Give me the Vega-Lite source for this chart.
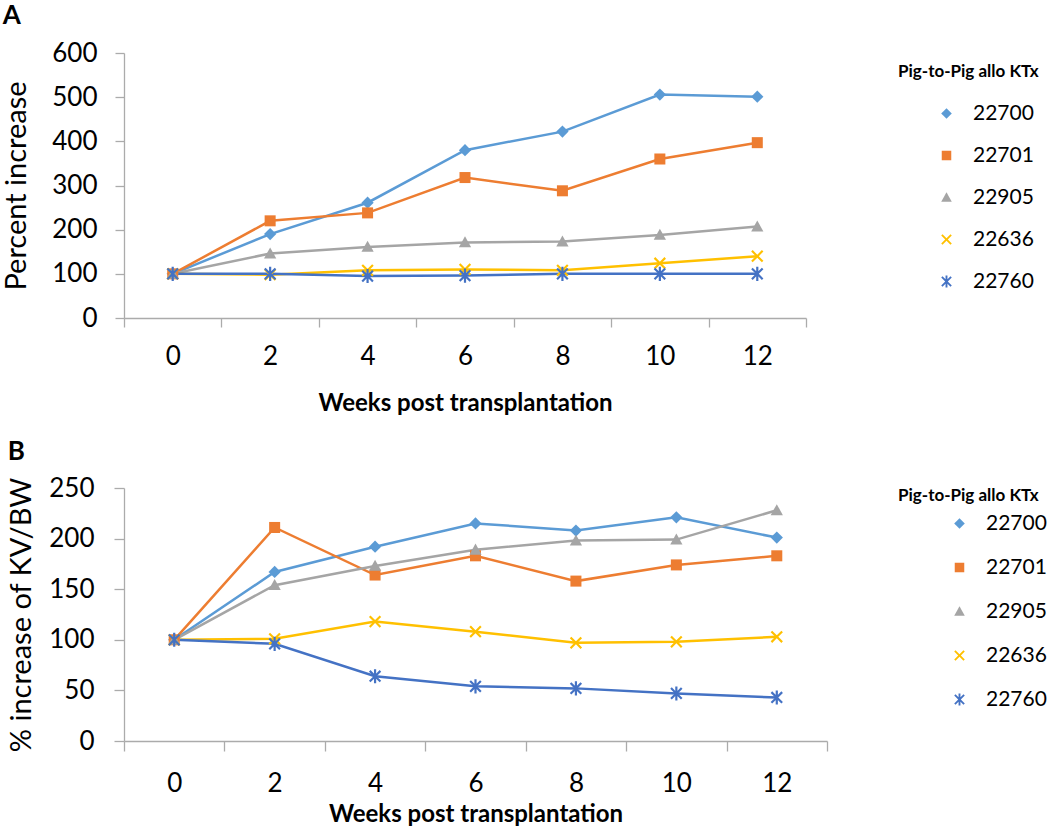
{
  "$schema": "https://vega.github.io/schema/vega-lite/v6.json",
  "padding": {"left": 2, "top": 3, "right": 0, "bottom": 0},
  "background": "white",
  "config": {
    "font": "Lato",
    "view": {"stroke": null},
    "axis": {"domainColor": "#ABABAB", "tickColor": "#ABABAB", "domainWidth": 1.3, "tickWidth": 1.3, "grid": false, "labelColor": "#000000", "titleColor": "#000000"},
    "legend": {"labelColor": "#000000", "titleColor": "#000000"},
    "title": {"color": "#000000"}
  },
  "datasets": {
    "a": [
      {"week": 0, "id": "22700", "value": 100}, {"week": 2, "id": "22700", "value": 190}, {"week": 4, "id": "22700", "value": 261}, {"week": 6, "id": "22700", "value": 380}, {"week": 8, "id": "22700", "value": 422}, {"week": 10, "id": "22700", "value": 506}, {"week": 12, "id": "22700", "value": 501},
      {"week": 0, "id": "22701", "value": 100}, {"week": 2, "id": "22701", "value": 220}, {"week": 4, "id": "22701", "value": 238}, {"week": 6, "id": "22701", "value": 318}, {"week": 8, "id": "22701", "value": 288}, {"week": 10, "id": "22701", "value": 360}, {"week": 12, "id": "22701", "value": 397},
      {"week": 0, "id": "22905", "value": 100}, {"week": 2, "id": "22905", "value": 146}, {"week": 4, "id": "22905", "value": 161}, {"week": 6, "id": "22905", "value": 171}, {"week": 8, "id": "22905", "value": 173}, {"week": 10, "id": "22905", "value": 188}, {"week": 12, "id": "22905", "value": 207},
      {"week": 0, "id": "22636", "value": 100}, {"week": 2, "id": "22636", "value": 98}, {"week": 4, "id": "22636", "value": 108}, {"week": 6, "id": "22636", "value": 110}, {"week": 8, "id": "22636", "value": 108}, {"week": 10, "id": "22636", "value": 124}, {"week": 12, "id": "22636", "value": 140},
      {"week": 0, "id": "22760", "value": 100}, {"week": 2, "id": "22760", "value": 100}, {"week": 4, "id": "22760", "value": 95}, {"week": 6, "id": "22760", "value": 96}, {"week": 8, "id": "22760", "value": 100}, {"week": 10, "id": "22760", "value": 100}, {"week": 12, "id": "22760", "value": 100}
    ],
    "b": [
      {"week": 0, "id": "22700", "value": 100}, {"week": 2, "id": "22700", "value": 167}, {"week": 4, "id": "22700", "value": 192}, {"week": 6, "id": "22700", "value": 215}, {"week": 8, "id": "22700", "value": 208}, {"week": 10, "id": "22700", "value": 221}, {"week": 12, "id": "22700", "value": 201},
      {"week": 0, "id": "22701", "value": 100}, {"week": 2, "id": "22701", "value": 211}, {"week": 4, "id": "22701", "value": 164}, {"week": 6, "id": "22701", "value": 183}, {"week": 8, "id": "22701", "value": 158}, {"week": 10, "id": "22701", "value": 174}, {"week": 12, "id": "22701", "value": 183},
      {"week": 0, "id": "22905", "value": 100}, {"week": 2, "id": "22905", "value": 154}, {"week": 4, "id": "22905", "value": 173}, {"week": 6, "id": "22905", "value": 189}, {"week": 8, "id": "22905", "value": 198}, {"week": 10, "id": "22905", "value": 199}, {"week": 12, "id": "22905", "value": 228},
      {"week": 0, "id": "22636", "value": 100}, {"week": 2, "id": "22636", "value": 101}, {"week": 4, "id": "22636", "value": 118}, {"week": 6, "id": "22636", "value": 108}, {"week": 8, "id": "22636", "value": 97}, {"week": 10, "id": "22636", "value": 98}, {"week": 12, "id": "22636", "value": 103},
      {"week": 0, "id": "22760", "value": 100}, {"week": 2, "id": "22760", "value": 96}, {"week": 4, "id": "22760", "value": 64}, {"week": 6, "id": "22760", "value": 54}, {"week": 8, "id": "22760", "value": 52}, {"week": 10, "id": "22760", "value": 47}, {"week": 12, "id": "22760", "value": 43}
    ]
  },
  "spacing": 24,
  "vconcat": [
    {
      "width": 682,
      "height": 265,
      "title": {"text": "A", "anchor": "start", "frame": "bounds", "fontSize": 26, "fontWeight": "bold", "offset": 11},
      "data": {"name": "a"},
      "encoding": {
        "x": {"field": "week", "type": "ordinal", "scale": {"type": "band", "paddingInner": 0, "paddingOuter": 0},
          "axis": {"title": "Weeks post transplantation", "titleFontSize": 24, "titleFontWeight": "bold", "labelFontSize": 26, "labelAngle": 0, "labelPadding": 16, "tickSize": 9, "tickBand": "extent", "titlePadding": 22}},
        "y": {"field": "value", "type": "quantitative", "scale": {"domain": [0, 600]},
          "axis": {"title": "Percent increase", "titleFontSize": 29, "titleFontWeight": "normal", "labelFontSize": 26, "labelPadding": 18, "tickSize": 9, "values": [0, 100, 200, 300, 400, 500, 600], "titlePadding": 20}}
      },
      "layer": [
        {"mark": {"type": "line", "strokeWidth": 2.5},
         "encoding": {"stroke": {"field": "id", "type": "nominal", "scale": {"domain": ["22760", "22636", "22905", "22701", "22700"], "range": ["#4472C4", "#FFC000", "#A5A5A5", "#ED7D31", "#5B9BD5"]}, "legend": null}}},
        {
          "mark": {"type": "point", "filled": true, "opacity": 1, "size": 150},
          "encoding": {
            "color": {"field": "id", "type": "nominal", "scale": {"domain": ["22700", "22701", "22905", "22636", "22760"], "range": ["#5B9BD5", "#ED7D31", "#A5A5A5", "#FFC000", "#4472C4"]},
              "legend": {"title": "Pig-to-Pig allo KTx", "orient": "right", "offset": 81, "padding": 11, "titleFontSize": 17, "titleFontWeight": "bold", "titlePadding": 22, "labelFontSize": 21, "rowPadding": 20, "symbolOffset": 38, "labelOffset": 16, "symbolSize": 112}},
            "shape": {"field": "id", "type": "nominal", "scale": {"domain": ["22700", "22701", "22905", "22636", "22760"], "range": ["M-1,0L0,-1L1,0L0,1Z", "M-0.9,-0.9L0.9,-0.9L0.9,0.9L-0.9,0.9Z", "M-1,0.8L0,-1L1,0.8Z", "M0,-0.25L0.75,-1L1,-0.75L0.25,0L1,0.75L0.75,1L0,0.25L-0.75,1L-1,0.75L-0.25,0L-1,-0.75L-0.75,-1Z", "M0,-0.25L0.75,-1L1,-0.75L0.25,0L1,0.75L0.75,1L0,0.25L-0.75,1L-1,0.75L-0.25,0L-1,-0.75L-0.75,-1ZM-0.18,-1.15L0.18,-1.15L0.18,1.15L-0.18,1.15Z"]}}
          }
        }
      ]
    },
    {
      "width": 703,
      "height": 253,
      "title": {"text": "B", "anchor": "start", "frame": "bounds", "fontSize": 26, "fontWeight": "bold", "offset": 10},
      "data": {"name": "b"},
      "encoding": {
        "x": {"field": "week", "type": "ordinal", "scale": {"type": "band", "paddingInner": 0, "paddingOuter": 0},
          "axis": {"title": "Weeks post transplantation", "titleFontSize": 24, "titleFontWeight": "bold", "labelFontSize": 26, "labelAngle": 0, "labelPadding": 19, "tickSize": 10, "tickBand": "extent", "titlePadding": 6}},
        "y": {"field": "value", "type": "quantitative", "scale": {"domain": [0, 250]},
          "axis": {"title": "% increase of KV/BW", "titleFontSize": 29, "titleFontWeight": "normal", "labelFontSize": 26, "labelPadding": 20, "tickSize": 10, "values": [0, 50, 100, 150, 200, 250], "titlePadding": 12}}
      },
      "layer": [
        {"mark": {"type": "line", "strokeWidth": 2.5},
         "encoding": {"stroke": {"field": "id", "type": "nominal", "scale": {"domain": ["22760", "22636", "22905", "22701", "22700"], "range": ["#4472C4", "#FFC000", "#A5A5A5", "#ED7D31", "#5B9BD5"]}, "legend": null}}},
        {
          "mark": {"type": "point", "filled": true, "opacity": 1, "size": 150},
          "encoding": {
            "color": {"field": "id", "type": "nominal", "scale": {"domain": ["22700", "22701", "22905", "22636", "22760"], "range": ["#5B9BD5", "#ED7D31", "#A5A5A5", "#FFC000", "#4472C4"]},
              "legend": {"title": "Pig-to-Pig allo KTx", "orient": "right", "offset": 71, "padding": 0, "titleFontSize": 17, "titleFontWeight": "bold", "titlePadding": 8, "labelFontSize": 21, "rowPadding": 22, "symbolOffset": 51, "labelOffset": 16, "symbolSize": 112}},
            "shape": {"field": "id", "type": "nominal", "scale": {"domain": ["22700", "22701", "22905", "22636", "22760"], "range": ["M-1,0L0,-1L1,0L0,1Z", "M-0.9,-0.9L0.9,-0.9L0.9,0.9L-0.9,0.9Z", "M-1,0.8L0,-1L1,0.8Z", "M0,-0.25L0.75,-1L1,-0.75L0.25,0L1,0.75L0.75,1L0,0.25L-0.75,1L-1,0.75L-0.25,0L-1,-0.75L-0.75,-1Z", "M0,-0.25L0.75,-1L1,-0.75L0.25,0L1,0.75L0.75,1L0,0.25L-0.75,1L-1,0.75L-0.25,0L-1,-0.75L-0.75,-1ZM-0.18,-1.15L0.18,-1.15L0.18,1.15L-0.18,1.15Z"]}}
          }
        }
      ]
    }
  ],
  "resolve": {
    "scale": {"x": "independent", "y": "independent", "color": "independent", "shape": "independent", "stroke": "independent"},
    "legend": {"color": "independent", "shape": "independent", "stroke": "independent"}
  }
}
